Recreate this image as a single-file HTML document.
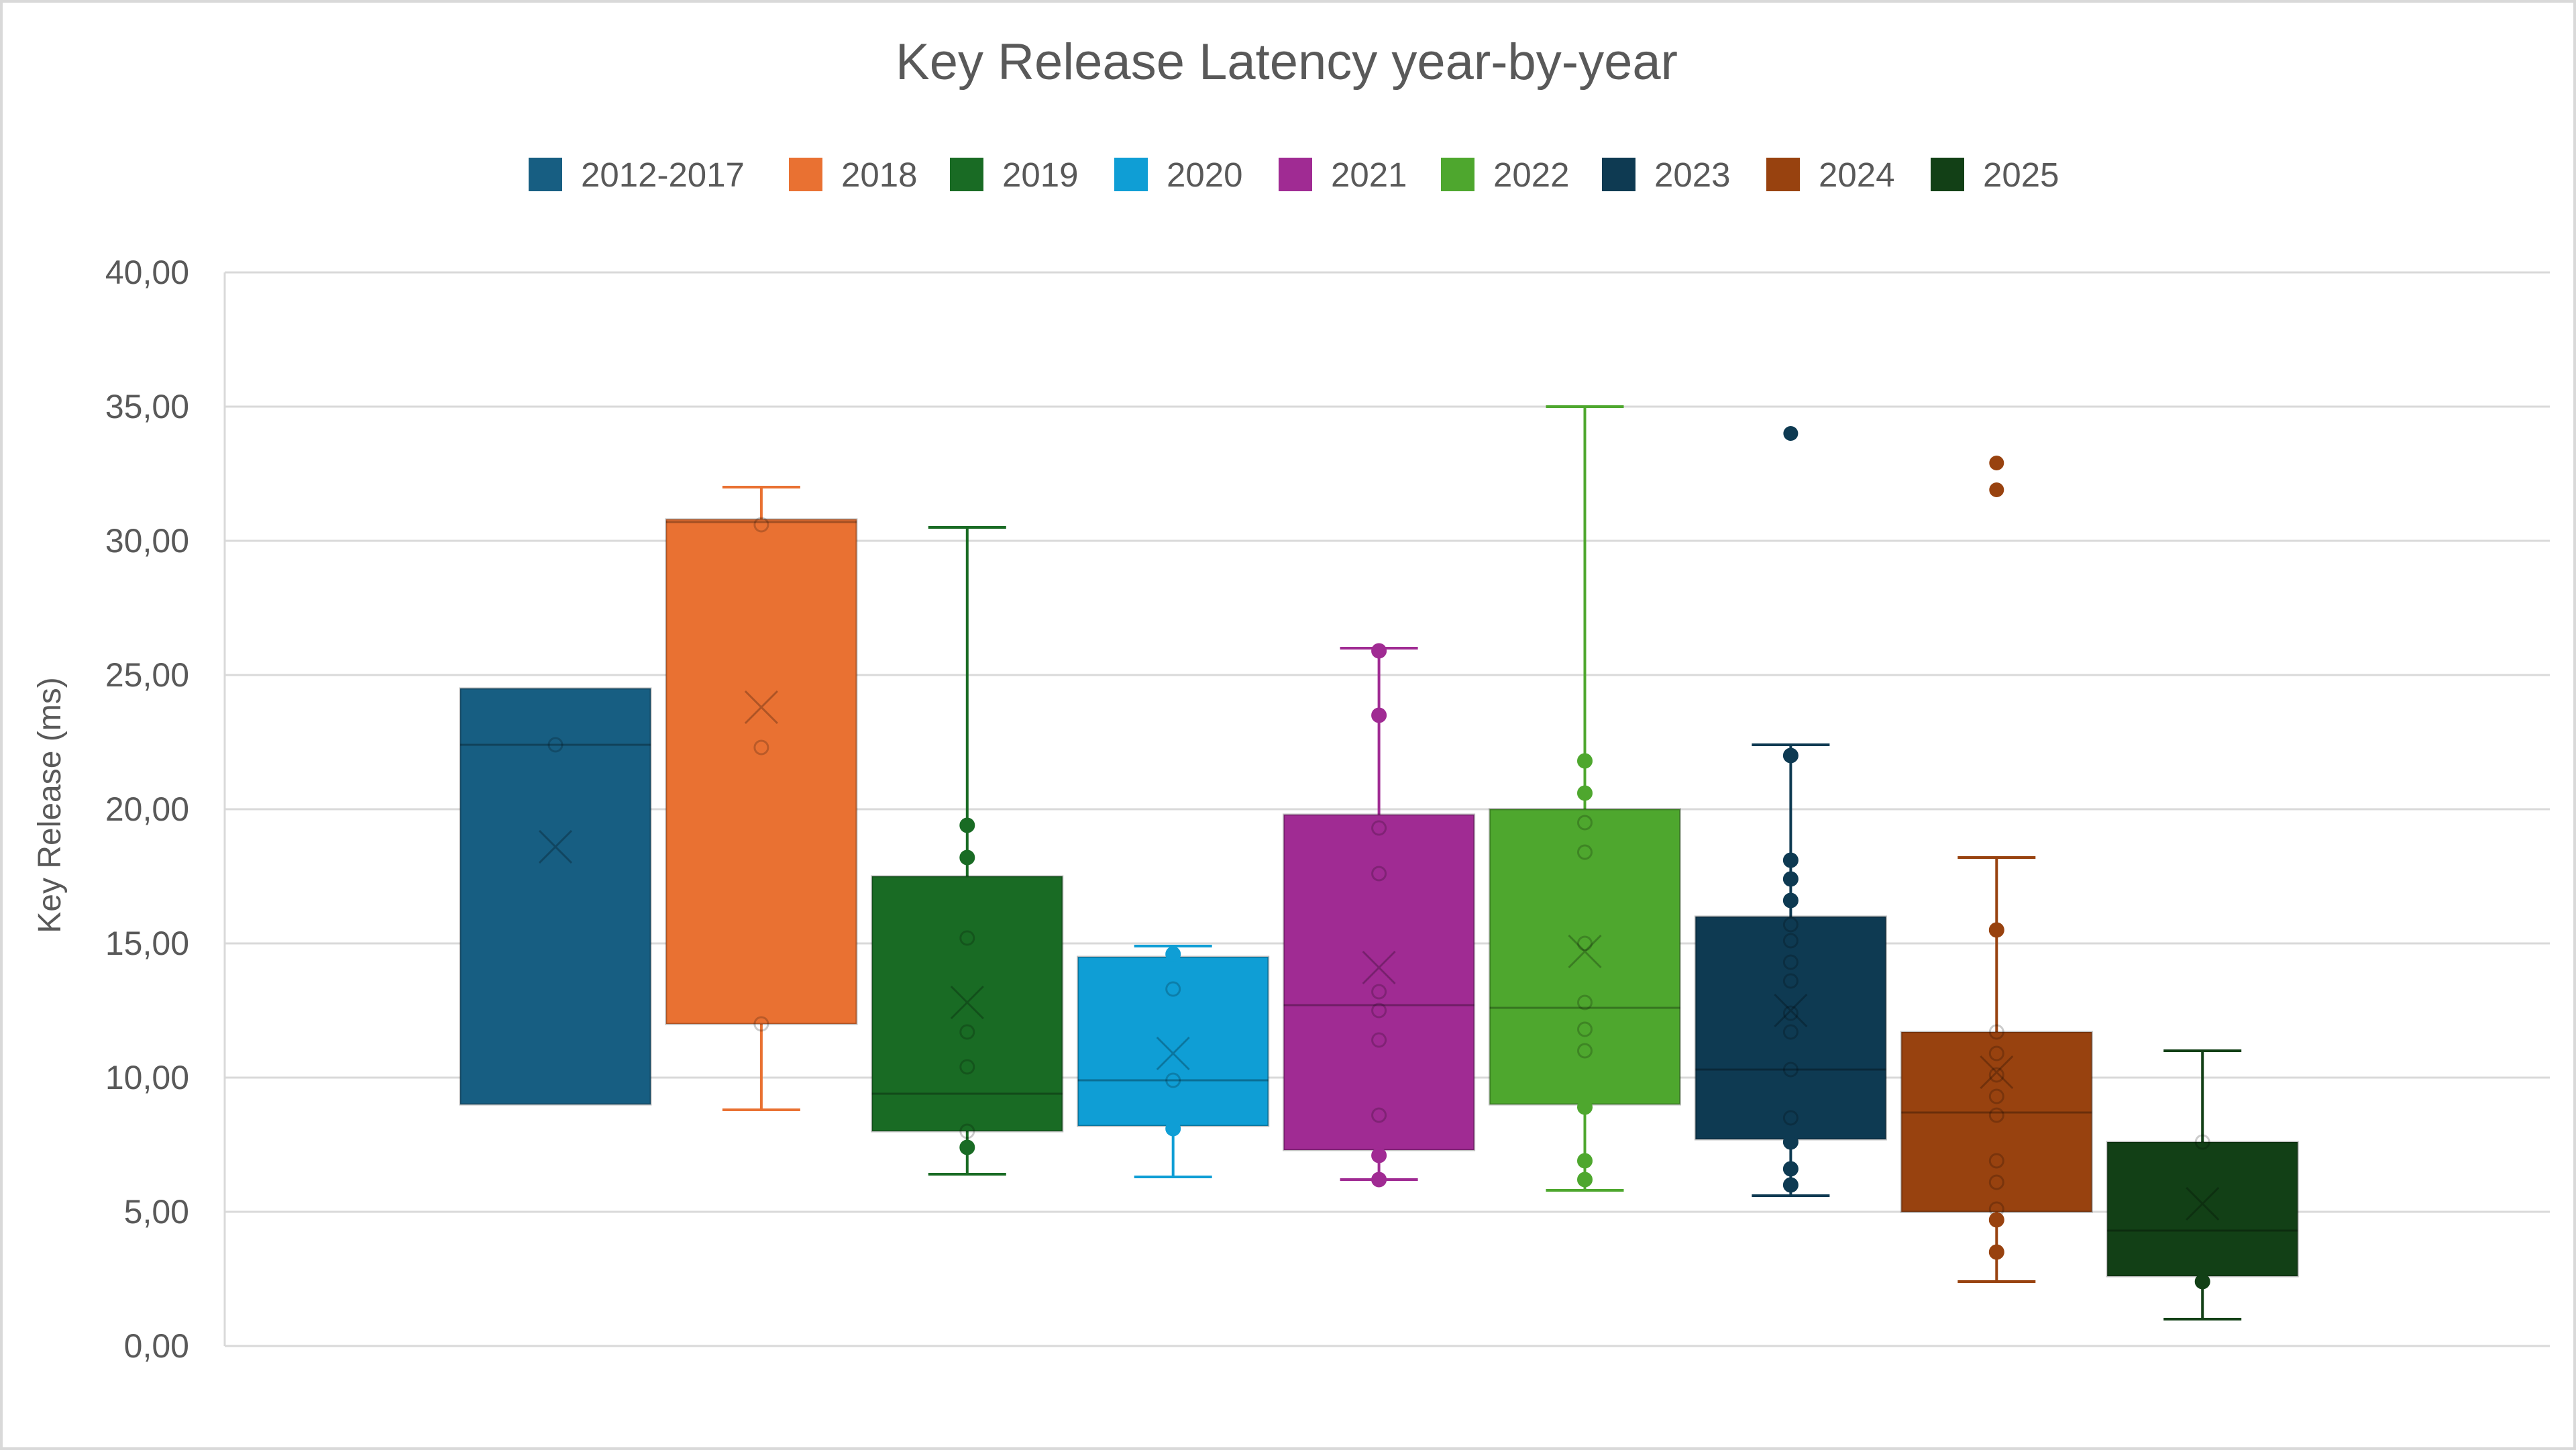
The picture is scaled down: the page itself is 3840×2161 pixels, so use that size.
<!DOCTYPE html>
<html><head><meta charset="utf-8"><style>
html,body{margin:0;padding:0;background:#fff}
svg{display:block}
text{font-family:"Liberation Sans",sans-serif;fill:#595959}
</style></head><body>
<svg id="chart" width="3840" height="2161" viewBox="0 0 3840 2161" xmlns="http://www.w3.org/2000/svg">
<rect x="2" y="2" width="3836" height="2157" fill="#fff" stroke="#d9d9d9" stroke-width="4"/>
<text x="1918" y="118" font-size="76" text-anchor="middle">Key Release Latency year-by-year</text>
<text transform="translate(90,1200) rotate(-90)" font-size="48" text-anchor="middle">Key Release (ms)</text>
<g id="grid"></g><g id="legend"></g><g id="boxes"></g>
</svg>
<script>
const categories=["2012-2017","2018","2019","2020","2021","2022","2023","2024","2025"];
const colors=["#175e82","#e97132","#196b24","#0f9ed5","#a02b93","#4ea72e","#0e3a52","#98420f","#124016"];
const q1=[9.0,12.0,8.0,8.2,7.3,9.0,7.7,5.0,2.6];
const medians=[22.4,30.7,9.4,9.9,12.7,12.6,10.3,8.7,4.3];
const q3=[24.5,30.8,17.5,14.5,19.8,20.0,16.0,11.7,7.6];
const means=[18.6,23.8,12.8,10.9,14.1,14.7,12.5,10.2,5.3];
const whiskerMax=[null,32.0,30.5,14.9,26.0,35.0,22.4,18.2,11.0];
const whiskerMin=[null,8.8,6.4,6.3,6.2,5.8,5.6,2.4,1.0];
const outliers=[[],[],[],[],[],[],[34.0],[32.9,31.9],[]];
const points=[[22.4],[30.6,22.3,12.0],[19.4,18.2,15.2,11.7,10.4,8.0,7.4],[14.6,13.3,9.9,8.1],
[25.9,23.5,19.3,17.6,13.2,12.5,11.4,8.6,7.1,6.2],[21.8,20.6,19.5,18.4,15.0,12.8,11.8,11.0,8.9,6.9,6.2],
[22.0,18.1,17.4,16.6,15.7,15.1,14.3,13.6,12.4,11.7,10.3,8.5,7.6,6.6,6.0],
[15.5,11.7,10.9,10.1,9.3,8.6,6.9,6.1,5.1,4.7,3.5],[7.6,2.4]];
const yTicks=[0,5,10,15,20,25,30,35,40];
const yLabels=["0,00","5,00","10,00","15,00","20,00","25,00","30,00","35,00","40,00"];
const legendX=[788,1176,1416,1661,1906,2148,2388,2633,2878];

const NS="http://www.w3.org/2000/svg";
const L=335,R=3801,Y0=2006,Y40=406;
const y=v=>Y0-(v-0)*(Y0-Y40)/40;
const xc=i=>828+306.9*i;
const BW=284;
function mk(tag,at,parent){const e=document.createElementNS(NS,tag);for(const k in at)e.setAttribute(k,at[k]);parent.appendChild(e);return e;}
const grid=document.getElementById('grid'),leg=document.getElementById('legend'),bx=document.getElementById('boxes');
mk('line',{x1:L,y1:Y40,x2:L,y2:Y0,stroke:'#d9d9d9','stroke-width':3},grid);
yTicks.forEach((t,i)=>{
 const g=mk('line',{x1:L,y1:y(t),x2:R,y2:y(t),stroke:'#d9d9d9','stroke-width':3},grid);
 
 
 const tx=mk('text',{x:282,y:y(t)+17,'font-size':50,'text-anchor':'end'},grid);
 tx.textContent=yLabels[i];
 
 
});
categories.forEach((c,i)=>{
 const g=mk('g',{},leg);
 
 
 mk('rect',{x:legendX[i],y:235,width:50,height:50,fill:colors[i]},g);
 const t=mk('text',{x:legendX[i]+78,y:278,'font-size':51},g);t.textContent=c;
});
categories.forEach((c,i)=>{
 const col=colors[i],cx=xc(i);
 const g=mk('g',{},bx);
 
 
 if(whiskerMax[i]!==null){
  mk('line',{x1:cx,y1:y(q3[i]),x2:cx,y2:y(whiskerMax[i]),stroke:col,'stroke-width':4},g);
  mk('line',{x1:cx-58,y1:y(whiskerMax[i]),x2:cx+58,y2:y(whiskerMax[i]),stroke:col,'stroke-width':4},g);
  mk('line',{x1:cx,y1:y(q1[i]),x2:cx,y2:y(whiskerMin[i]),stroke:col,'stroke-width':4},g);
  mk('line',{x1:cx-58,y1:y(whiskerMin[i]),x2:cx+58,y2:y(whiskerMin[i]),stroke:col,'stroke-width':4},g);
 }
 mk('rect',{x:cx-BW/2,y:y(q3[i]),width:BW,height:y(q1[i])-y(q3[i]),fill:col,stroke:'rgba(0,0,0,0.25)','stroke-width':3},g);
 mk('line',{x1:cx-BW/2,y1:y(medians[i]),x2:cx+BW/2,y2:y(medians[i]),stroke:'rgba(0,0,0,0.3)','stroke-width':3},g);
 const m=y(means[i]);
 mk('path',{d:`M${cx-24},${m-24}L${cx+24},${m+24}M${cx+24},${m-24}L${cx-24},${m+24}`,stroke:'rgba(0,0,0,0.25)','stroke-width':3,fill:'none'},g);
 points[i].forEach(p=>{
  const inside=p>=q1[i]&&p<=q3[i];
  mk('circle',{cx:cx,cy:y(p),r:10,fill:inside?'none':col,stroke:inside?'rgba(0,0,0,0.2)':col,'stroke-width':3},g);
 });
 outliers[i].forEach(p=>{mk('circle',{cx:cx,cy:y(p),r:11,fill:col},g);});
});
</script>
</body></html>
